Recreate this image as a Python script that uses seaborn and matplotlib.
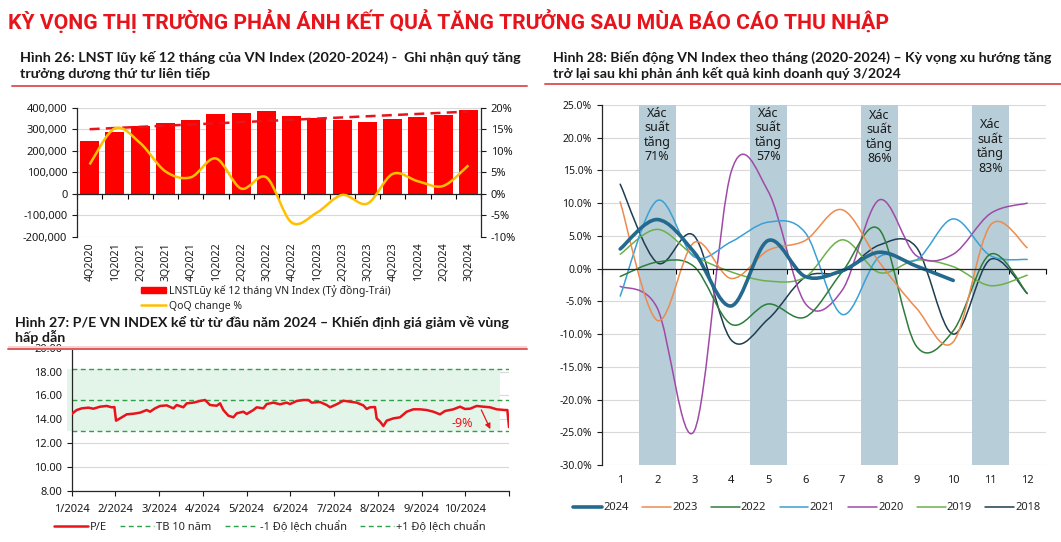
import matplotlib
matplotlib.use("Agg")
import matplotlib.pyplot as plt
import numpy as np
import seaborn as sns
from matplotlib.lines import Line2D
from matplotlib.patches import PathPatch, Patch, Rectangle
from matplotlib.path import Path
from matplotlib.ticker import FuncFormatter

sns.set_theme(style="ticks")
plt.rcParams["font.family"] = ["Noto Sans", "DejaVu Sans"]
plt.rcParams["axes.linewidth"] = 0.9

# ---------------------------------------------------------------------------
# Data
# ---------------------------------------------------------------------------
quarters = ["4Q2020", "1Q2021", "2Q2021", "3Q2021", "4Q2021", "1Q2022", "2Q2022",
            "3Q2022", "4Q2022", "1Q2023", "2Q2023", "3Q2023", "4Q2023", "1Q2024",
            "2Q2024", "3Q2024"]
profit = [247000, 285000, 315000, 331000, 343000, 371000, 377000, 385000,
          362000, 351000, 343000, 334000, 348000, 357000, 366000, 389000]
trend_ends = [300000, 382000]
qoq = [6.8, 15.2, 11.8, 5.2, 3.8, 8.2, 1.2, 3.8, -6.7, -4.4, -0.3, -2.3,
       4.6, 2.9, 1.8, 6.6]

# P/E: position in months since 1/2024, value
pe_pos = [0.000, 0.114, 0.229, 0.381, 0.495, 0.648, 0.800, 0.915, 0.976, 1.014,
          1.105, 1.258, 1.410, 1.563, 1.715, 1.791, 1.905, 2.020, 2.172, 2.325,
          2.401, 2.553, 2.630, 2.782, 2.934, 3.049, 3.163, 3.316, 3.392, 3.468,
          3.582, 3.697, 3.773, 3.925, 4.002, 4.154, 4.230, 4.383, 4.459, 4.611,
          4.764, 4.916, 4.992, 5.145, 5.297, 5.412, 5.488, 5.678, 5.831, 5.907,
          6.059, 6.212, 6.364, 6.517, 6.669, 6.745, 6.822, 6.936, 6.974, 7.050,
          7.127, 7.203, 7.355, 7.508, 7.660, 7.812, 7.965, 8.117, 8.270, 8.422,
          8.537, 8.727, 8.880, 8.994, 9.108, 9.261, 9.413, 9.566, 9.718, 9.909,
          9.962, 10.000]
pe_vals = [14.45, 14.78, 14.92, 14.98, 14.89, 15.06, 15.12, 15.01, 15.03, 13.89,
           14.08, 14.42, 14.47, 14.56, 14.78, 14.64, 14.92, 15.12, 15.17, 14.92,
           15.20, 15.01, 15.34, 15.40, 15.54, 15.62, 15.20, 15.14, 15.34, 14.78,
           14.31, 14.17, 14.50, 14.64, 14.45, 14.78, 15.01, 14.92, 15.28, 15.40,
           15.26, 15.40, 15.28, 15.54, 15.62, 15.62, 15.40, 15.45, 15.20, 15.01,
           15.26, 15.56, 15.48, 15.40, 15.17, 14.87, 15.01, 15.03, 14.08, 13.81,
           13.44, 13.89, 14.08, 14.17, 14.64, 14.84, 14.84, 14.78, 14.64, 14.42,
           14.70, 14.84, 15.06, 14.87, 14.89, 15.12, 15.06, 15.01, 14.84, 14.78,
           14.78, 13.35]
pe_months = ["1/2024", "2/2024", "3/2024", "4/2024", "5/2024", "6/2024",
             "7/2024", "8/2024", "9/2024", "10/2024"]
pe_mean, pe_sd_low, pe_sd_high = 15.65, 13.05, 18.25

# Monthly VN Index change (%)
months = list(range(1, 13))
years = ["2024", "2023", "2022", "2021", "2020", "2019", "2018"]
m2024 = [3.0, 7.5, 2.5, -5.7, 4.3, -1.2, -0.3, 2.5, 0.4, -1.8]
m2023 = [10.2, -7.9, 4.0, -1.5, 2.8, 4.3, 9.0, 1.0, -6.0, -11.2, 6.6, 3.2]
m2022 = [-1.2, 1.0, 0.3, -8.5, -5.4, -7.4, -0.5, 6.0, -11.8, -9.5, 2.2, -3.8]
m2021 = [-4.2, 10.4, 1.8, 4.1, 7.1, 5.5, -7.0, 1.8, 1.3, 7.6, 2.0, 1.4]
m2020 = [-2.7, -6.0, -24.8, 14.8, 11.8, -5.3, -3.3, 10.5, 2.0, 2.2, 8.4, 10.0]
m2019 = [2.2, 6.0, 2.0, -0.5, -1.9, -1.3, 4.4, -0.6, 1.3, 0.3, -2.6, -1.0]
m2018 = [12.9, 0.9, 5.0, -10.9, -7.7, -1.3, -0.5, 3.6, 3.3, -10.0, 1.4, -3.8]
band_months = [2, 5, 8, 11]
band_probs = ["71%", "57%", "86%", "83%"]
band_low, band_high = -30, 25

# ---------------------------------------------------------------------------
W, H = 1061, 542
fig = plt.figure(figsize=(W / 100, H / 100), dpi=100)
RED = "#E8141B"
SEP = "#E05A5A"
GRID = "#D9D9D9"
TXT = "#1A1A1A"


def box(x0, y0, x1, y1):
    return [x0 / W, 1 - y1 / H, (x1 - x0) / W, (y1 - y0) / H]


def fy(y):
    return 1 - y / H


def smooth_path(xs, ys):
    """Excel-style smoothed line (Catmull-Rom as cubic Bezier)."""
    pts = np.column_stack([np.asarray(xs, float), np.asarray(ys, float)])
    n = len(pts)
    verts, codes = [pts[0]], [Path.MOVETO]
    for i in range(n - 1):
        p0 = pts[i - 1] if i > 0 else pts[i]
        p1, p2 = pts[i], pts[i + 1]
        p3 = pts[i + 2] if i + 2 < n else pts[i + 1]
        verts += [p1 + (p2 - p0) / 6, p2 - (p3 - p1) / 6, p2]
        codes += [Path.CURVE4] * 3
    return Path(verts, codes)


renderer = fig.canvas.get_renderer()


def fit(t, width_px):
    w = t.get_window_extent(renderer=renderer).width
    t.set_fontsize(t.get_fontsize() * width_px / w)


def sep_line(x0, x1, y):
    fig.add_artist(Line2D([x0 / W, x1 / W], [fy(y), fy(y)], color=SEP, lw=1.4,
                          transform=fig.transFigure))


# ---------------------------------------------------------------------------
# Titles
# ---------------------------------------------------------------------------
t = fig.text(8 / W, fy(21), "KỲ VỌNG THỊ TRƯỜNG PHẢN ÁNH KẾT QUẢ TĂNG TRƯỞNG SAU MÙA BÁO CÁO THU NHẬP",
             color=RED, fontweight="bold", fontsize=14, va="center",
             family=["Liberation Sans Narrow", "Roboto", "DejaVu Sans"])
fit(t, 882)

hkw = dict(fontweight="bold", va="center", color=TXT, family=["Lato", "DejaVu Sans"])
t = fig.text(20 / W, fy(57), "Hình 26: LNST lũy kế 12 tháng của VN Index (2020-2024) -  Ghi nhận quý tăng",
             fontsize=9.5, **hkw)
fit(t, 502)
fig.text(20 / W, fy(73), "trưởng dương thứ tư liên tiếp", fontsize=t.get_fontsize(), **hkw)
t = fig.text(15 / W, fy(322), "Hình 27: P/E VN INDEX kể từ từ đầu năm 2024 – Khiến định giá giảm về vùng",
             fontsize=9.5, **hkw)
fit(t, 496)
fig.text(15 / W, fy(337), "hấp dẫn", fontsize=t.get_fontsize(), **hkw)
t = fig.text(553 / W, fy(57), "Hình 28: Biến động VN Index theo tháng (2020-2024) – Kỳ vọng xu hướng tăng",
             fontsize=9.5, **hkw)
fit(t, 500)
fig.text(553 / W, fy(73), "trở lại sau khi phản ánh kết quả kinh doanh quý 3/2024",
         fontsize=t.get_fontsize(), **hkw)

sep_line(12, 527, 85.5)
sep_line(545, 1061, 84.3)

# ---------------------------------------------------------------------------
# Hình 26: bars + QoQ
# ---------------------------------------------------------------------------
ax1 = fig.add_axes(box(77, 107.7, 481, 236.7))
sns.barplot(x=quarters, y=profit, color="#FF0000", saturation=1, width=0.75,
            linewidth=0, ax=ax1, zorder=2)
ax1.plot([0, len(quarters) - 1], trend_ends, color="#E8141B", lw=1.8,
         dashes=(4, 2.5), zorder=3)
ax1.set_xlim(-0.5, len(quarters) - 0.5)
ax1.set_ylim(-200000, 400000)
ax1.set_yticks(range(-200000, 400001, 100000))
ax1.yaxis.set_major_formatter(FuncFormatter(lambda v, p: f"{v:,.0f}"))
ax1.yaxis.grid(True, color=GRID, lw=0.8, zorder=0)
ax1.set_axisbelow(True)
ax1.spines[["top", "right"]].set_visible(False)
ax1.spines["bottom"].set_position(("data", 0))
ax1.set_xticks(np.arange(-0.5, len(quarters), 1), labels=[""] * (len(quarters) + 1))
ax1.tick_params(axis="x", length=3.5, width=0.8, color="black")
ax1.tick_params(axis="y", length=3.5, width=0.8, labelsize=8, colors=TXT)
ax1.set_xlabel("")
ax1.set_ylabel("")
sec1 = ax1.secondary_xaxis(0)
sec1.set_xticks(range(len(quarters)), labels=quarters)
sec1.tick_params(length=0, rotation=90, labelsize=7.6, pad=4, colors=TXT)
sec1.spines["bottom"].set_visible(False)

ax1r = ax1.twinx()
ax1r.set_ylim(-10, 20)
ax1r.set_yticks(range(-10, 21, 5))
ax1r.yaxis.set_major_formatter(FuncFormatter(lambda v, p: f"{v:.0f}%"))
ax1r.tick_params(axis="y", length=3.5, width=0.8, labelsize=8, colors=TXT)
ax1r.spines[["top", "bottom", "left"]].set_visible(False)
ax1r.add_patch(PathPatch(smooth_path(range(len(qoq)), qoq), fc="none",
                         ec="#FFC000", lw=1.8, zorder=4))

fig.legend(handles=[Patch(color="#FF0000", label="LNSTLũy kế 12 tháng VN Index (Tỷ đồng-Trái)"),
                    Line2D([], [], color="#FFC000", lw=1.8, label="QoQ change %")],
           loc="upper left", bbox_to_anchor=(141 / W, fy(285)), frameon=False,
           fontsize=7.5, handlelength=2.4, handleheight=0.55, handletextpad=0.3,
           labelspacing=0.35, borderaxespad=0, borderpad=0)

# ---------------------------------------------------------------------------
# Hình 27: P/E
# ---------------------------------------------------------------------------
ax2 = fig.add_axes(box(71.7, 347.7, 509, 491))
ax2.fill_between([-0.11, 9.79], pe_sd_low, pe_sd_high, color="#E3F4E8",
                 lw=0, zorder=1, clip_on=False)
for v in (pe_sd_high, pe_mean, pe_sd_low):
    ax2.axhline(v, color="#2EA04A", lw=1.0, dashes=(3.5, 2.5), zorder=2)
sns.lineplot(x=pe_pos, y=pe_vals, ax=ax2, color=RED, lw=1.8, estimator=None,
             sort=False, zorder=3)
ax2.annotate("", xy=(9.6, 12.97), xytext=(9.34, 15.0),
             arrowprops=dict(arrowstyle="-|>", color=RED, lw=0.9,
                             mutation_scale=8), zorder=4)
ax2.text(8.92, 13.67, "-9%", color=RED, fontsize=9, ha="center", va="center")
ax2.set_xlim(0, 10)
ax2.set_ylim(8, 20)
ax2.set_yticks(range(8, 21, 2))
ax2.yaxis.set_major_formatter(FuncFormatter(lambda v, p: f"{v:.2f}"))
ax2.set_xticks(range(0, 11), labels=pe_months + [""])
ax2.yaxis.grid(True, color=GRID, lw=0.8, zorder=0)
ax2.set_axisbelow(True)
ax2.spines[["top", "right"]].set_visible(False)
ax2.tick_params(axis="both", length=3.5, width=0.8, labelsize=8, colors=TXT)
ax2.tick_params(axis="x", pad=6)

fig.add_artist(Rectangle((8 / W, fy(349.3)), 519 / W, 3.5 / H, color="#F9D3D3",
                         lw=0, transform=fig.transFigure))
sep_line(8, 527, 349.3)

gd = dict(color="#2EA04A", lw=1.0, dashes=(3.5, 2.5))
fig.legend(handles=[Line2D([], [], color=RED, lw=1.8, label="P/E"),
                    Line2D([], [], label="TB 10 năm", **gd),
                    Line2D([], [], label="-1 Độ lệch chuẩn", **gd),
                    Line2D([], [], label="+1 Độ lệch chuẩn", **gd)],
           loc="center", bbox_to_anchor=(270 / W, fy(527)), ncol=4, frameon=False,
           fontsize=8, handlelength=3.0, handletextpad=0.2, columnspacing=1.2,
           borderaxespad=0, borderpad=0)

# ---------------------------------------------------------------------------
# Hình 28: monthly VN Index
# ---------------------------------------------------------------------------
ax3 = fig.add_axes(box(601.7, 105, 1045.7, 465))
ax3.bar(band_months, band_high - band_low, bottom=band_low, width=1.0,
        color="#B7CDD8", lw=0, zorder=1)
label_top = [24.7, 24.7, 24.4, 23.0]
for m, p, y in zip(band_months, band_probs, label_top):
    ax3.text(m, y, f"Xác\nsuất\ntăng\n{p}", ha="center", va="top", fontsize=9,
             color=TXT, linespacing=1.15, zorder=5)

series = {"2024": m2024, "2023": m2023, "2022": m2022, "2021": m2021,
          "2020": m2020, "2019": m2019, "2018": m2018}
colors = {"2024": "#236A8E", "2023": "#ED8B4E", "2022": "#2D7D3A",
          "2021": "#3AA0D5", "2020": "#A04AA8", "2019": "#6CB04A", "2018": "#1E3D50"}
widths = {y: (2.6 if y == "2024" else 1.1) for y in years}
for i, y in enumerate(reversed(years)):
    vals = series[y]
    ax3.add_patch(PathPatch(smooth_path(months[:len(vals)], vals), fc="none",
                            ec=colors[y], lw=widths[y], zorder=3 + i * 0.1,
                            capstyle="round"))

ax3.set_xlim(0.5, 12.5)
ax3.set_ylim(band_low, band_high)
ax3.set_yticks(range(-30, 26, 5))
ax3.yaxis.set_major_formatter(FuncFormatter(lambda v, p: f"{v:.1f}%"))
ax3.yaxis.grid(True, color=GRID, lw=0.8, zorder=0)
ax3.set_axisbelow(True)
ax3.spines[["top", "right"]].set_visible(False)
ax3.spines["bottom"].set_position(("data", 0))
ax3.spines["bottom"].set_zorder(6)
ax3.set_xticks(np.arange(0.5, 13, 1), labels=[""] * 13)
ax3.tick_params(axis="x", length=3.5, width=0.8, color="black")
ax3.tick_params(axis="y", length=3.5, width=0.8, labelsize=7.5, colors=TXT)
sec3 = ax3.secondary_xaxis(0)
sec3.set_xticks(months, labels=[str(m) for m in months])
sec3.tick_params(length=0, labelsize=8, pad=7, colors=TXT)
sec3.spines["bottom"].set_visible(False)

fig.legend(handles=[Line2D([], [], color=colors[y], lw=widths[y], label=y) for y in years],
           loc="center", bbox_to_anchor=(807 / W, fy(508)), ncol=7, frameon=False,
           fontsize=8, handlelength=2.6, handletextpad=0.1, columnspacing=1.2,
           borderaxespad=0, borderpad=0)

fig.savefig("out.png", dpi=100, facecolor="white")
